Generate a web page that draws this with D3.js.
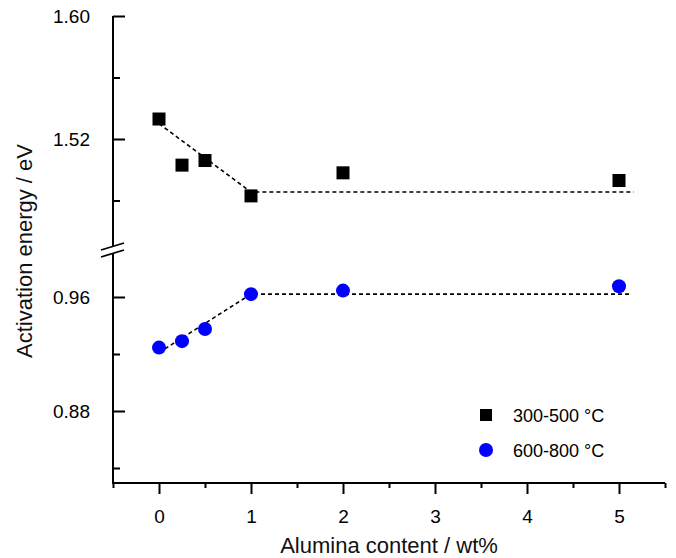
<!DOCTYPE html>
<html>
<head>
<meta charset="utf-8">
<script src="https://cdn.jsdelivr.net/npm/d3@7"></script>
<style>
  body { margin: 0; background: #fff; }
  svg { display: block; font-family: "Liberation Sans", Arial, sans-serif; }
</style>
</head>
<body>
<svg id="chart" width="676" height="558"></svg>
<script>
// ---- data ----
const alumina = [0, 0.25, 0.5, 1, 2, 5];
const ea300_500 = [1.533, 1.503, 1.506, 1.483, 1.498, 1.493];
const ea600_800 = [0.9245, 0.929, 0.9375, 0.962, 0.9645, 0.9675];
const trendLowX = [0, 1, 5.16];
const trendLowY = [1.530, 1.4855, 1.4855];
const trendHighX = [0, 1, 5.12];
const trendHighY = [0.921, 0.962, 0.962];
const xTicks = [0, 1, 2, 3, 4, 5];
const xMinorTicks = [-0.5, 0.5, 1.5, 2.5, 3.5, 4.5, 5.5];
const yTopTicks = [1.60, 1.52];
const yTopMinor = [1.56, 1.48];
const yBotTicks = [0.96, 0.88];
const yBotMinor = [0.92, 0.84];
const seriesNames = ["300-500 \u00B0C", "600-800 \u00B0C"];

const svg = d3.select("#chart");
const axisX = 113, axisBottomY = 483, axisTopY = 16;

const x = d3.scaleLinear().domain([-0.5, 5.5]).range([113, 665]);
const yTop = d3.scaleLinear().domain([1.60, 1.52]).range([16, 139]);
const yBot = d3.scaleLinear().domain([0.96, 0.88]).range([297, 411]);

// axis lines
const axG = svg.append("g").attr("stroke", "#000").attr("stroke-width", 2).attr("fill", "none");
axG.append("line").attr("x1", axisX).attr("x2", axisX).attr("y1", axisTopY).attr("y2", 246);
axG.append("line").attr("x1", axisX).attr("x2", axisX).attr("y1", 254).attr("y2", axisBottomY + 1);
axG.append("line").attr("x1", axisX - 1).attr("x2", 665).attr("y1", axisBottomY).attr("y2", axisBottomY);
// break marks
axG.append("line").attr("x1", 101).attr("y1", 250).attr("x2", 124).attr("y2", 243).attr("stroke-width", 1.8);
axG.append("line").attr("x1", 101).attr("y1", 257).attr("x2", 124).attr("y2", 250).attr("stroke-width", 1.8);

function styleAxis(g) {
  g.select(".domain").remove();
  g.selectAll(".tick line").attr("stroke", "#000").attr("stroke-width", 2);
  g.selectAll(".tick text").attr("fill", "#000").style("font-size", "19px")
   .style("font-family", "'Liberation Sans', Arial, sans-serif");
}

// y axes (ticks inward)
svg.append("g").attr("transform", `translate(${axisX},0)`)
  .call(d3.axisLeft(yTop).tickValues(yTopTicks).tickSizeInner(-12).tickSizeOuter(0).tickPadding(23).tickFormat(d3.format(".2f")))
  .call(styleAxis);
svg.append("g").attr("transform", `translate(${axisX},0)`)
  .call(d3.axisLeft(yTop).tickValues(yTopMinor).tickSizeInner(-7).tickSizeOuter(0).tickFormat(""))
  .call(styleAxis);
svg.append("g").attr("transform", `translate(${axisX},0)`)
  .call(d3.axisLeft(yBot).tickValues(yBotTicks).tickSizeInner(-12).tickSizeOuter(0).tickPadding(23).tickFormat(d3.format(".2f")))
  .call(styleAxis);
svg.append("g").attr("transform", `translate(${axisX},0)`)
  .call(d3.axisLeft(yBot).tickValues(yBotMinor).tickSizeInner(-7).tickSizeOuter(0).tickFormat(""))
  .call(styleAxis);

// x axis (ticks outward)
svg.append("g").attr("transform", `translate(0,${axisBottomY})`)
  .call(d3.axisBottom(x).tickValues(xTicks).tickSizeInner(11).tickSizeOuter(0).tickPadding(16).tickFormat(d3.format("d")))
  .call(styleAxis);
svg.append("g").attr("transform", `translate(0,${axisBottomY})`)
  .call(d3.axisBottom(x).tickValues(xMinorTicks).tickSizeInner(5).tickSizeOuter(0).tickFormat(""))
  .call(styleAxis);

// axis titles
svg.append("text").attr("x", 389).attr("y", 553).attr("text-anchor", "middle")
  .style("font-size", "22px").attr("fill", "#111").text("Alumina content / wt%");
svg.append("text").attr("transform", "translate(32,251) rotate(-90)").attr("text-anchor", "middle")
  .style("font-size", "22px").attr("fill", "#111").text("Activation energy / eV");

// trend lines
const lineTop = d3.line().x(d => x(d[0])).y(d => yTop(d[1]));
const lineBot = d3.line().x(d => x(d[0])).y(d => yBot(d[1]));
svg.append("path").datum(trendLowX.map((v, i) => [v, trendLowY[i]]))
  .attr("d", lineTop).attr("fill", "none").attr("stroke", "#000").attr("stroke-width", 1.6).attr("stroke-dasharray", "4,3");
svg.append("path").datum(trendHighX.map((v, i) => [v, trendHighY[i]]))
  .attr("d", lineBot).attr("fill", "none").attr("stroke", "#000").attr("stroke-width", 1.6).attr("stroke-dasharray", "4,3");

// markers
const sq = 13;
svg.append("g").selectAll("rect").data(alumina.map((v, i) => [v, ea300_500[i]])).join("rect")
  .attr("x", d => x(d[0]) - sq / 2).attr("y", d => yTop(d[1]) - sq / 2)
  .attr("width", sq).attr("height", sq).attr("fill", "#000");
svg.append("g").selectAll("circle").data(alumina.map((v, i) => [v, ea600_800[i]])).join("circle")
  .attr("cx", d => x(d[0])).attr("cy", d => yBot(d[1])).attr("r", 7).attr("fill", "#0000ff");

// legend
const lg = svg.append("g");
lg.append("rect").attr("x", 480).attr("y", 409).attr("width", 12).attr("height", 12).attr("fill", "#000");
lg.append("circle").attr("cx", 486).attr("cy", 450).attr("r", 7).attr("fill", "#0000ff");
lg.append("text").attr("x", 513).attr("y", 422).style("font-size", "18px").attr("fill", "#000").text(seriesNames[0]);
lg.append("text").attr("x", 513).attr("y", 457).style("font-size", "18px").attr("fill", "#000").text(seriesNames[1]);
</script>
</body>
</html>
